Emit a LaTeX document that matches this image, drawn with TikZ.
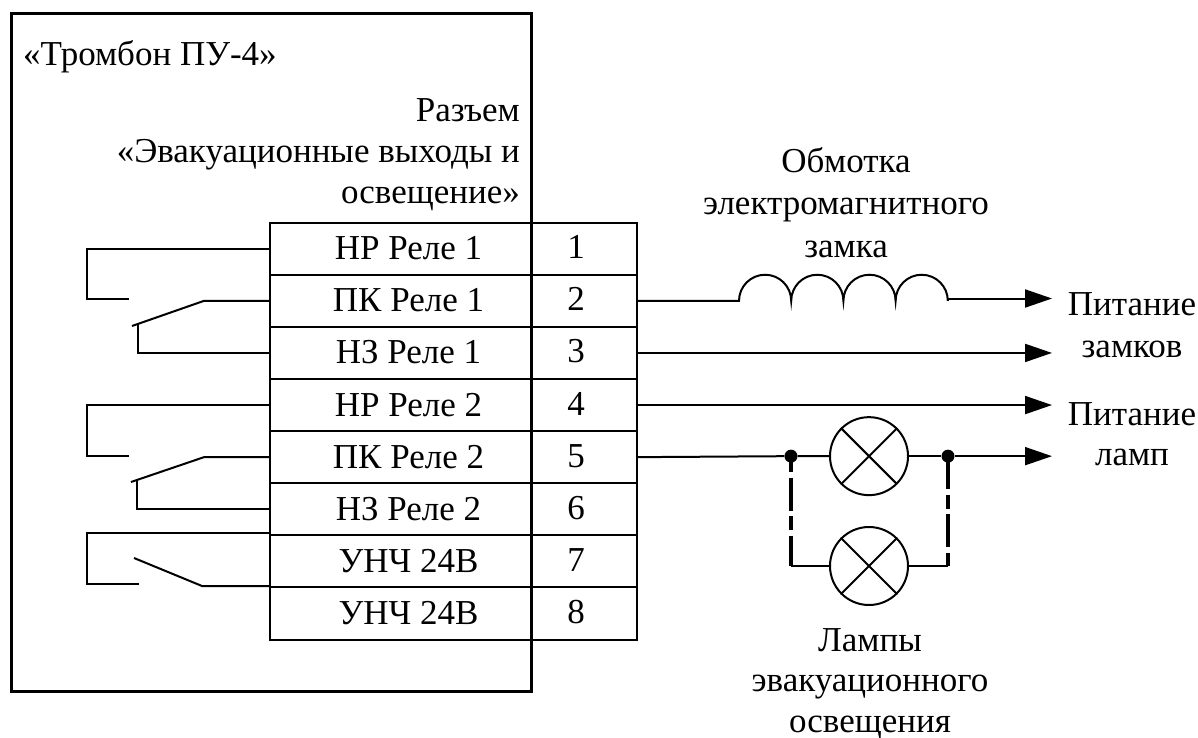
\documentclass[tikz,border=0pt]{standalone}
\usepackage{fontspec}
\setmainfont{Liberation Serif}
\usetikzlibrary{arrows.meta}
\tikzset{
  wire/.style={line width=2pt,line join=miter},
  frame/.style={draw,line width=3pt},
  cell/.style={draw,line width=2pt,minimum height=52.1pt,inner sep=0pt,anchor=north west,font=\fontsize{35}{40}\selectfont,text height=23pt},
  namecell/.style={cell,minimum width=261pt,text depth=1pt},
  numcell/.style={cell,minimum width=106pt,text depth=3pt},
  txt/.style={inner sep=0pt,font=\fontsize{35}{41}\selectfont,align=center},
  arrowwire/.style={wire,-{Triangle[length=27pt,width=18pt]}},
  dot/.style={circle,fill,inner sep=0pt,minimum size=13pt},
  lamp/.style={circle,draw,line width=2pt,minimum size=78pt,inner sep=0pt},
  dashline/.style={line width=3.5pt,dash pattern=on 33pt off 5.5pt on 14pt off 5.5pt},
}
\begin{document}
\begin{tikzpicture}[x=1pt,y=-1pt]
\useasboundingbox (0,0) rectangle (1198,738);
\node[frame,anchor=north west,minimum width=520pt,minimum height=678pt,inner sep=0pt] (box) at (10,12) {};
\node[txt,anchor=base west] (title) at (23,66) {«Тромбон ПУ-4»};
\node[txt,anchor=base east,align=right] (conn) at (520,204) {Разъем\\«Эвакуационные выходы и\\освещение»};
\foreach \n/\y/\t/\m in {1/221.7/НР Реле 1/1,2/273.8/ПК Реле 1/2,3/325.9/НЗ Реле 1/3,4/378/НР Реле 2/4,5/430.1/ПК Реле 2/5,6/482.2/НЗ Реле 2/6,7/534.3/УНЧ 24В/7,8/586.4/УНЧ 24В/8}{
  \node[namecell] (r\n) at (269,\y) {\kern16pt\t};
  \node[numcell] (c\n) at (530,\y) {\m\kern16pt};
}
% relay contacts
\coordinate (a2) at (87,299); \coordinate (a3) at (129,299);
\coordinate (b1) at (204,0); \coordinate (b2) at (132,326);
\coordinate (d1) at (138,0); \coordinate (d2) at (138,323);
\draw[wire] (r1.west) -- (r1.west -| a2) -- (a2) -- (a3);
\draw[wire] (r2.west) -- (r2.west -| b1) -- (b2);
\draw[wire] (r3.west) -- (r3.west -| d1) -- (d2);
\coordinate (e2) at (87,455.7); \coordinate (e3) at (129,455.7);
\coordinate (f1) at (204,0); \coordinate (f2) at (131,482);
\coordinate (g1) at (137,0); \coordinate (g2) at (137,480);
\draw[wire] (r4.west) -- (r4.west -| e2) -- (e2) -- (e3);
\draw[wire] (r5.west) -- (r5.west -| f1) -- (f2);
\draw[wire] (r6.west) -- (r6.west -| g1) -- (g2);
\coordinate (h1) at (87,533.3); \coordinate (h2) at (87,584); \coordinate (h3) at (139,584);
\coordinate (i1) at (202,586); \coordinate (i2) at (134,558);
\draw[wire] (r7.west |- h1) -- (h1) -- (h2) -- (h3);
\draw[wire] (r8.west |- i1) -- (i1) -- (i2);
% coil
\coordinate (coilin) at (739,0);
\coordinate (coilout) at (948,0);
\coordinate (t2) at (1052,298.5);
\draw[wire] (c2.east) -- (c2.east -| coilin) arc[start angle=180,end angle=0,radius=26.1pt]
  arc[start angle=180,end angle=0,radius=26.1pt] arc[start angle=180,end angle=0,radius=26.1pt] arc[start angle=180,end angle=0,radius=26.1pt];
\draw[arrowwire] (t2 -| coilout) -- (t2);
\coordinate (t) at (1052,0);
\draw[arrowwire] (c3.east) -- (c3.east -| t);
\draw[arrowwire] (c4.east) -- (c4.east -| t);
% lamps
\node[lamp] (l1) at (869,456.15) {};
\node[lamp] (l2) at (869,566) {};
\foreach \l in {l1,l2}{
  \draw[wire] (\l.45) -- (\l.225);
  \draw[wire] (\l.135) -- (\l.315);
}
\node[dot] (j1) at (791,456.15) {};
\node[dot] (j2) at (948,456.15) {};
\coordinate (k1) at (791,566);
\coordinate (k2) at (948,566);
\draw[wire] (c5.east) -- (j1) -- (l1.west);
\draw[wire] (l1.east) -- (j2);
\draw[arrowwire] (j2) -- (j2 -| t);
\draw[wire] (l2.west) -- (k1);
\draw[wire] (l2.east) -- (k2);
\draw[dashline,dash phase=36.5pt] (j1.center) -- (k1);
\draw[dashline] (j2.center) -- (k2);
% labels
\node[txt,anchor=base,font=\fontsize{35}{42.5}\selectfont] (coiltxt) at (846,257) {Обмотка\\электромагнитного\\замка};
\node[txt,anchor=base,font=\fontsize{35}{42}\selectfont] (p1) at (1132,357) {Питание\\замков};
\node[txt,anchor=base,font=\fontsize{35}{40}\selectfont] (p2) at (1132,465) {Питание\\ламп};
\node[txt,anchor=base,font=\fontsize{35}{40.5}\selectfont] (lamptxt) at (870,732) {Лампы\\эвакуационного\\освещения};
\end{tikzpicture}
\end{document}
